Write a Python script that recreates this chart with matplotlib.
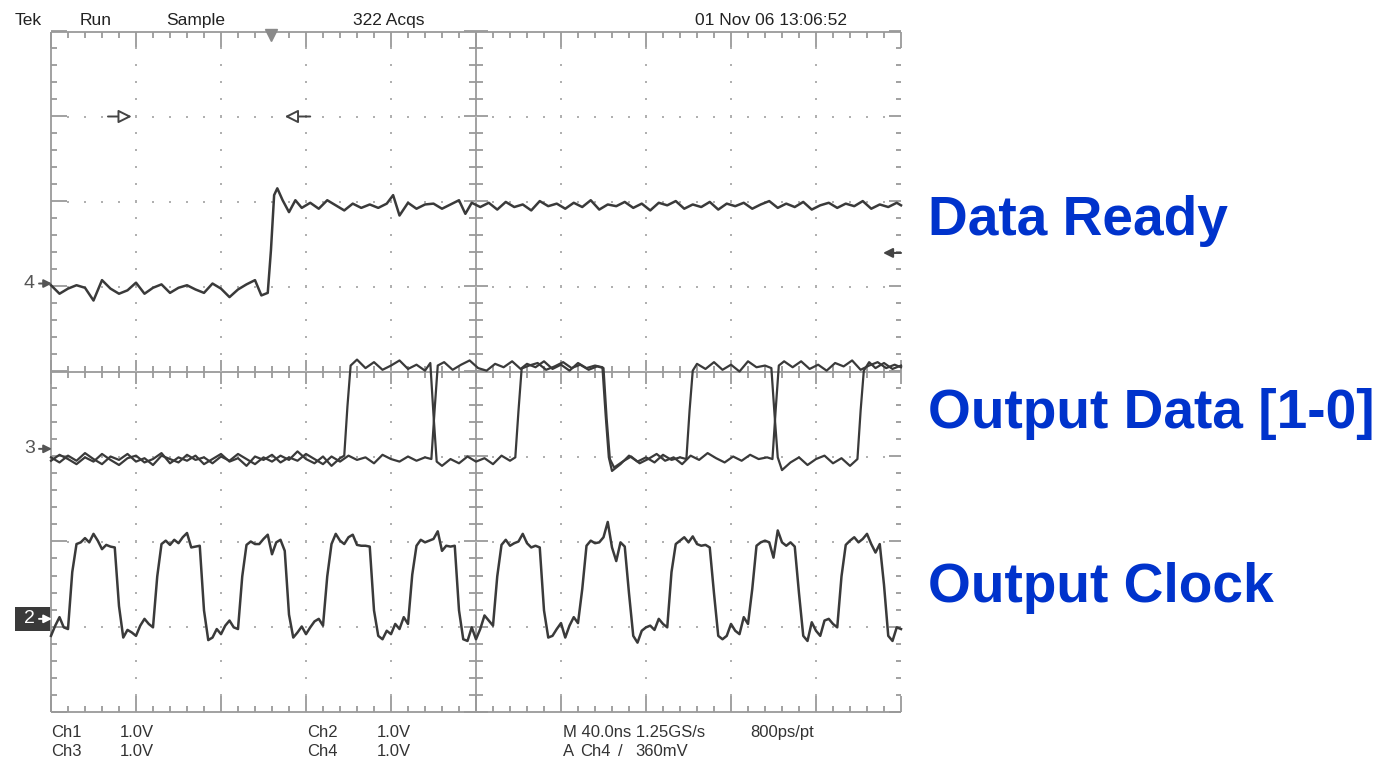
import numpy as np
import matplotlib
matplotlib.use("Agg")
import matplotlib.pyplot as plt
from matplotlib.collections import LineCollection
from matplotlib.patches import Rectangle, FancyArrowPatch

# ------------------------------------------------------------------ data
TIME_PER_DIV_NS = 40.0          # M 40.0ns
VOLTS_PER_DIV = 1.0             # 1.0V on every channel
N_HDIV, N_VDIV = 10, 8

# channel ground positions (divisions from screen centre)
CH4_POS = 1.035
CH3_POS = -0.91
CH2_POS = -2.91

TRIGGER_LEVEL_V = 0.36          # A Ch4 / 360mV
TRIGGER_TIME_NS = 103.5
CURSOR_RIGHT_NS = (26.8, 38.0)  # "->|>" marker
CURSOR_LEFT_NS = (122.0, 110.0) # "<|-" marker
CURSOR_LEVEL_DIV = 3.0

# Ch4 : Data Ready (time ns, volts)
DATA_READY_T = [0, 4, 8, 12, 16, 20, 24, 28, 32, 36, 40, 44, 48, 52, 56, 60, 64, 68, 72, 76,
                80, 84, 88, 92, 96, 99, 102, 103.5, 105, 106.5, 109, 112, 115, 118,
                122, 126, 130, 134, 138, 142, 146, 150, 154, 158, 161, 164,
                168, 172, 176, 180, 184, 188, 192, 195, 198,
                202, 206, 210, 214, 218, 222, 226, 230, 234, 238, 242, 246, 250, 254, 258,
                262, 266, 270, 274, 278, 282, 286, 290, 294, 298, 302, 306, 310, 314, 318,
                322, 326, 330, 334, 338, 342, 346, 350, 354, 358, 362, 366, 370, 374, 378,
                382, 386, 390, 394, 398, 400]
DATA_READY_V = [-0.02, -0.12, -0.06, -0.02, -0.05, -0.20, 0.04, -0.06, -0.12, -0.08, 0.01, -0.12,
                -0.05, -0.01, -0.11, -0.05, -0.02, -0.07, -0.11, 0.00, -0.06, -0.16, -0.07, -0.01,
                0.04, -0.14, -0.11, 0.39, 1.04, 1.12, 0.98, 0.84, 0.98, 0.89,
                0.95, 0.88, 0.98, 0.92, 0.86, 0.94, 0.89, 0.93, 0.89, 0.94, 1.04, 0.80,
                0.95, 0.88, 0.93, 0.94, 0.88, 0.93, 0.98, 0.82, 0.95,
                0.90, 0.95, 0.87, 0.96, 0.90, 0.93, 0.86, 0.97, 0.91, 0.94, 0.88, 0.95, 0.90, 0.98, 0.87,
                0.93, 0.91, 0.96, 0.89, 0.94, 0.86, 0.95, 0.92, 0.97, 0.88, 0.93, 0.90, 0.96, 0.87, 0.94,
                0.91, 0.95, 0.88, 0.93, 0.97, 0.89, 0.94, 0.90, 0.96, 0.87, 0.92, 0.95, 0.89, 0.94, 0.91,
                0.97, 0.88, 0.93, 0.90, 0.95, 0.92]

# Ch3 : Output Data bit traces, (time ns, volts)
OUT_DATA_A = [(0, -0.10), (4, -0.16), (8, -0.08), (12, -0.14), (16, -0.05), (20, -0.12), (24, -0.18),
              (28, -0.09), (32, -0.13), (36, -0.06), (40, -0.15), (44, -0.11), (48, -0.19), (52, -0.08),
              (56, -0.12), (60, -0.16), (64, -0.07), (68, -0.13), (72, -0.10), (76, -0.17), (80, -0.09),
              (84, -0.14), (88, -0.06), (92, -0.12), (96, -0.18), (100, -0.10), (104, -0.15), (108, -0.08),
              (112, -0.13), (116, -0.03), (120, -0.12), (124, -0.17), (128, -0.09), (132, -0.20), (136, -0.11),
              (138, -0.08), (139.5, 0.50), (141, 0.98), (144, 1.05), (148, 0.95), (152, 1.02), (156, 0.93),
              (160, 0.98), (164, 1.04), (168, 0.94), (172, 0.99), (176, 0.92), (178.5, 1.01),
              (180, 0.40), (181.5, -0.15), (184, -0.20), (188, -0.12), (192, -0.17), (196, -0.09),
              (200, -0.15), (204, -0.11), (208, -0.18), (212, -0.08), (216, -0.14), (218.5, -0.10),
              (220, 0.45), (221.5, 0.95), (224, 1.00), (228, 0.96), (232, 1.03), (236, 0.94), (240, 0.99),
              (244, 0.92), (248, 1.01), (252, 0.95), (256, 0.98), (259.5, 0.96),
              (261, 0.40), (262.5, -0.10), (264, -0.26), (268, -0.18), (272, -0.08), (276, -0.15),
              (280, -0.10), (284, -0.16), (288, -0.07), (292, -0.13), (296, -0.10), (299, -0.12),
              (300.5, 0.45), (302, 0.92), (304, 1.00), (308, 0.94), (312, 1.02), (316, 0.93), (320, 0.99),
              (324, 0.91), (328, 1.03), (332, 0.96), (336, 0.98), (339, 0.95),
              (340.5, 0.40), (342, -0.10), (344, -0.25), (348, -0.16), (352, -0.10), (356, -0.19),
              (360, -0.12), (364, -0.08), (368, -0.17), (372, -0.11), (376, -0.20), (379.5, -0.12),
              (381, 0.45), (382.5, 0.92), (385, 1.02), (388, 0.95), (392, 1.01), (396, 0.94), (400, 0.98)]
OUT_DATA_B = [(0, -0.14), (4, -0.07), (8, -0.12), (12, -0.18), (16, -0.10), (20, -0.15), (24, -0.06),
              (28, -0.13), (32, -0.19), (36, -0.11), (40, -0.08), (44, -0.16), (48, -0.12), (52, -0.05),
              (56, -0.17), (60, -0.10), (64, -0.14), (68, -0.08), (72, -0.18), (76, -0.12), (80, -0.06),
              (84, -0.15), (88, -0.11), (92, -0.20), (96, -0.09), (100, -0.13), (104, -0.07), (108, -0.16),
              (112, -0.10), (116, -0.14), (120, -0.06), (124, -0.12), (128, -0.18), (132, -0.09),
              (136, -0.15), (140, -0.08), (144, -0.13), (148, -0.10), (152, -0.17), (156, -0.07),
              (160, -0.12), (164, -0.15), (168, -0.09), (172, -0.14), (176, -0.10), (179, -0.12),
              (180.5, 0.45), (182, 0.98), (185, 1.02), (189, 0.93), (193, 0.99), (197, 1.04), (201, 0.95),
              (205, 0.92), (209, 1.00), (213, 0.96), (217, 1.03), (221, 0.94), (225, 0.98), (229, 1.01),
              (233, 0.93), (237, 0.97), (241, 1.02), (245, 0.95), (249, 0.99), (253, 0.93), (257, 0.97),
              (260, 0.95),
              (261.5, 0.35), (263, -0.12), (265, -0.22), (269, -0.15), (273, -0.09), (277, -0.17),
              (281, -0.12), (285, -0.06), (289, -0.14), (293, -0.10), (297, -0.18), (301, -0.08),
              (305, -0.13), (309, -0.05), (313, -0.11), (317, -0.16), (321, -0.09), (325, -0.14),
              (329, -0.07), (333, -0.12), (337, -0.10), (339.5, -0.12),
              (341, 0.45), (342.5, 0.98), (345, 1.03), (349, 0.96), (353, 1.03), (357, 0.94), (361, 0.99),
              (365, 0.92), (369, 1.01), (373, 0.97), (377, 1.04), (381, 0.93), (385, 0.98), (389, 1.02),
              (393, 0.95), (397, 0.99), (400, 0.96)]

# Ch2 : Output Clock, one sample every 2 ns from 0 to 400 ns (volts)
CLOCK_SAMPLE_NS = 2.0
CLOCK_V = [
    -0.20, -0.08, 0.02, -0.10, -0.12, 0.55, 0.88, 0.90, 0.95, 0.90, 1.00, 0.92, 0.82, 0.87, 0.85, 0.84, 0.15, -0.22, -0.13, -0.16,
    -0.20, -0.08, 0.00, -0.06, -0.10, 0.50, 0.88, 0.92, 0.87, 0.93, 0.89, 0.96, 1.01, 0.84, 0.85, 0.86, 0.10, -0.25, -0.22, -0.12,
    -0.18, -0.08, -0.02, -0.10, -0.12, 0.50, 0.87, 0.91, 0.88, 0.88, 0.94, 0.99, 0.76, 0.90, 0.93, 0.80, 0.05, -0.22, -0.16, -0.09,
    -0.18, -0.10, -0.03, 0.00, -0.08, 0.50, 0.88, 1.00, 0.92, 0.88, 0.96, 0.99, 0.87, 0.86, 0.86, 0.85, 0.10, -0.20, -0.24, -0.14,
    -0.18, -0.06, -0.12, 0.02, -0.06, 0.52, 0.86, 0.93, 0.90, 0.92, 0.94, 1.03, 0.80, 0.86, 0.85, 0.86, 0.10, -0.24, -0.26, -0.10,
    -0.24, -0.12, 0.04, -0.02, -0.08, 0.50, 0.87, 0.93, 0.86, 0.89, 0.91, 1.00, 0.89, 0.84, 0.86, 0.84, 0.10, -0.22, -0.20, -0.12,
    -0.05, -0.22, -0.08, 0.02, -0.05, 0.35, 0.86, 0.92, 0.89, 0.90, 0.96, 1.14, 0.84, 0.68, 0.90, 0.85, 0.30, -0.20, -0.28, -0.14,
    -0.10, -0.08, -0.13, 0.00, -0.06, -0.10, 0.55, 0.88, 0.92, 0.96, 0.90, 0.97, 0.88, 0.86, 0.87, 0.84, 0.30, -0.20, -0.24, -0.20,
    -0.06, -0.14, -0.18, 0.02, -0.06, 0.35, 0.86, 0.90, 0.92, 0.90, 0.72, 1.04, 0.90, 0.86, 0.90, 0.85, 0.30, -0.20, -0.26, -0.04,
    -0.14, -0.20, -0.02, 0.00, -0.06, -0.10, 0.50, 0.87, 0.92, 0.96, 0.90, 0.94, 1.00, 0.88, 0.78, 0.88, 0.40, -0.20, -0.26, -0.10,
    -0.12]

HEADER = [("Tek", 15), ("Run", 80), ("Sample", 166), ("322 Acqs", 353), ("01 Nov 06 13:06:52", 695)]
FOOTER_ROW1 = [("Ch1", 51), ("1.0V", 120), ("Ch2", 307), ("1.0V", 377), ("M 40.0ns 1.25GS/s", 563), ("800ps/pt", 750)]
FOOTER_ROW2 = [("Ch3", 51), ("1.0V", 120), ("Ch4", 307), ("1.0V", 377), ("A", 563), ("Ch4", 580), ("/", 618), ("360mV", 635)]
LABELS = [("Data Ready", 235), ("Output Data [1-0]", 428), ("Output Clock", 602)]

# ------------------------------------------------------------------ figure
W, H = 1387, 760
fig = plt.figure(figsize=(W / 100, H / 100), dpi=100)
fig.patch.set_facecolor("white")

def fx(x):
    return x / W

def fy(y):
    return 1 - y / H

AX_L, AX_T, AX_W, AX_H = 51, 31.5, 850, 680
ax = fig.add_axes([fx(AX_L), fy(AX_T + AX_H), AX_W / W, AX_H / H])
XMAX = N_HDIV * TIME_PER_DIV_NS
ax.set_xlim(0, XMAX)
ax.set_ylim(-N_VDIV / 2, N_VDIV / 2)
ax.axis("off")

PXX = XMAX / AX_W          # ns per pixel
PXY = N_VDIV / AX_H        # div per pixel
GRAT = "#9a9a9a"
DOT = "#b0b0b0"
TRACE = "#3a3a3a"

segs = []
minor_x = np.arange(0, XMAX + 0.1, TIME_PER_DIV_NS / 5)
minor_y = np.arange(-N_VDIV / 2, N_VDIV / 2 + 0.01, 0.2)
for x in minor_x:
    major = abs(x / TIME_PER_DIV_NS - round(x / TIME_PER_DIV_NS)) < 1e-6
    L = (16 if major else 6) * PXY
    segs.append([(x, 4), (x, 4 - L)])
    segs.append([(x, -4), (x, -4 + L)])
    c = (12 if major else 6) * PXY
    segs.append([(x, -c), (x, c)])
for y in minor_y:
    major = abs(y - round(y)) < 1e-6
    L = (16 if major else 6) * PXX
    segs.append([(0, y), (L, y)])
    Lr = (12 if major else 5) * PXX
    segs.append([(XMAX, y), (XMAX - Lr, y)])
    c = (12 if major else 7) * PXX
    segs.append([(XMAX / 2 - c, y), (XMAX / 2 + c, y)])
# border (left, top, bottom) and centre axes
segs.append([(0, -4), (0, 4)])
segs.append([(0, 4), (XMAX, 4)])
segs.append([(0, -4), (XMAX, -4)])
segs.append([(XMAX / 2, -4), (XMAX / 2, 4)])
segs.append([(0, 0), (XMAX, 0)])
ax.add_collection(LineCollection(segs, colors=GRAT, linewidths=1.3, clip_on=False, zorder=1))

# dotted graticule
dx, dy = [], []
for k in range(1, N_HDIV):
    if k == N_HDIV // 2:
        continue
    for y in minor_y[1:-1]:
        dx.append(k * TIME_PER_DIV_NS); dy.append(y)
for j in range(-N_VDIV // 2 + 1, N_VDIV // 2):
    if j == 0:
        continue
    for x in minor_x[1:-1]:
        dx.append(x); dy.append(j)
ax.scatter(dx, dy, s=2.0, c=DOT, marker="s", linewidths=0, zorder=1)

# traces
ax.plot(DATA_READY_T, CH4_POS + np.array(DATA_READY_V) / VOLTS_PER_DIV,
        color=TRACE, lw=1.8, zorder=3, clip_on=False)
for tr in (OUT_DATA_A, OUT_DATA_B):
    a = np.array(tr)
    ax.plot(a[:, 0], CH3_POS + a[:, 1] / VOLTS_PER_DIV, color=TRACE, lw=1.6, zorder=3, clip_on=False)
tc = np.arange(len(CLOCK_V)) * CLOCK_SAMPLE_NS
ax.plot(tc, CH2_POS + np.array(CLOCK_V) / VOLTS_PER_DIV, color=TRACE, lw=1.8, zorder=3, clip_on=False)

# trigger position marker (top)
ax.plot([TRIGGER_TIME_NS], [4 - 3.5 * PXY], marker="v", ms=9, color="#8a8a8a",
        mec="#8a8a8a", clip_on=False, zorder=4)
# cursor markers
ax.annotate("", xy=(CURSOR_RIGHT_NS[1], CURSOR_LEVEL_DIV), xytext=(CURSOR_RIGHT_NS[0], CURSOR_LEVEL_DIV),
            arrowprops=dict(arrowstyle="-|>", fc="white", ec="#444444", lw=1.4, mutation_scale=20,
                            shrinkA=0, shrinkB=0))
ax.annotate("", xy=(CURSOR_LEFT_NS[1], CURSOR_LEVEL_DIV), xytext=(CURSOR_LEFT_NS[0], CURSOR_LEVEL_DIV),
            arrowprops=dict(arrowstyle="-|>", fc="white", ec="#444444", lw=1.4, mutation_scale=20,
                            shrinkA=0, shrinkB=0))
# trigger level arrow (right)
trig_y = CH4_POS + TRIGGER_LEVEL_V / VOLTS_PER_DIV
ax.annotate("", xy=(XMAX - 18 * PXX, trig_y), xytext=(XMAX, trig_y),
            arrowprops=dict(arrowstyle="-|>", fc="#444444", ec="#444444", lw=1.5, mutation_scale=14,
                            shrinkA=0, shrinkB=0),
            annotation_clip=False)

# channel ground markers
NARROW = ["Liberation Sans Narrow", "Liberation Sans", "DejaVu Sans"]
def ground_marker(label, pos, boxed=False):
    ypix = AX_T + (N_VDIV / 2 - pos) * AX_H / N_VDIV
    col = "white" if boxed else "#555555"
    if boxed:
        fig.patches.append(Rectangle((fx(15), fy(ypix + 12)), 35 / W, 24 / H,
                                     transform=fig.transFigure, fc="#3a3a3a", ec="none", zorder=5))
    fig.text(fx(24), fy(ypix), label, ha="left", va="center", fontsize=14, color=col,
             family=NARROW, zorder=6)
    fig.add_artist(FancyArrowPatch((fx(39), fy(ypix)), (fx(52), fy(ypix)),
                                   transform=fig.transFigure, arrowstyle="-|>", mutation_scale=12,
                                   color=col, lw=1.4, shrinkA=0, shrinkB=0, zorder=6))

ground_marker("4", CH4_POS)
ground_marker("3", CH3_POS)
ground_marker("2", CH2_POS, boxed=True)

# header / footer text
for s, x in HEADER:
    fig.text(fx(x), fy(25), s, ha="left", va="baseline", fontsize=12.5, color="#222222", family=NARROW)
for s, x in FOOTER_ROW1:
    fig.text(fx(x), fy(737), s, ha="left", va="baseline", fontsize=12, color="#333333", family=NARROW)
for s, x in FOOTER_ROW2:
    fig.text(fx(x), fy(756), s, ha="left", va="baseline", fontsize=12, color="#333333", family=NARROW)

# channel labels
for s, yb in LABELS:
    fig.text(fx(928), fy(yb), s, ha="left", va="baseline", fontsize=39.7, fontweight="bold",
             color="#0033cc", family=["Liberation Sans", "DejaVu Sans"])

fig.savefig("out.png", dpi=100, facecolor="white")
